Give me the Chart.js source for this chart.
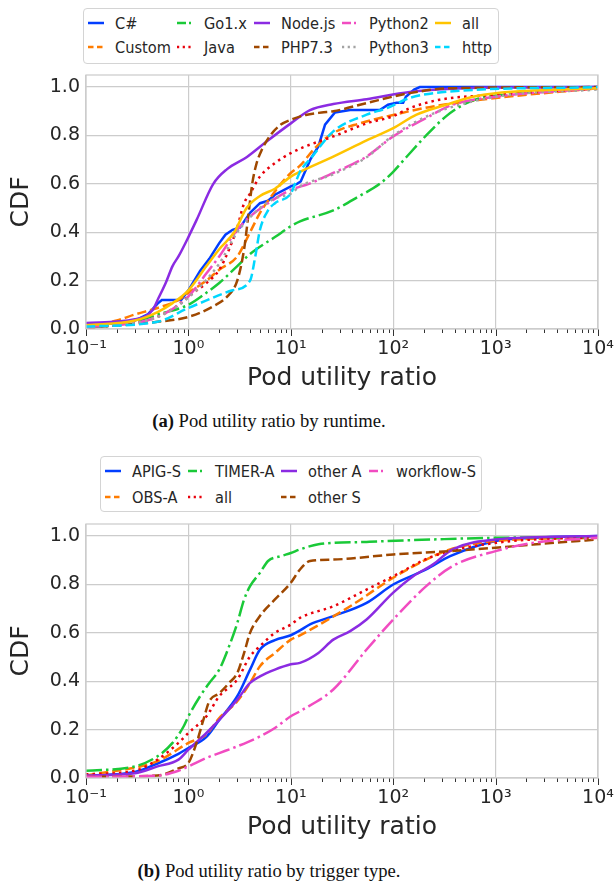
<!DOCTYPE html>
<html lang="en">
<head>
<meta charset="UTF-8" />
<title>Pod utility ratio CDF</title>
<script src="https://cdn.jsdelivr.net/npm/chart.js"></script>
<style>
  body { margin: 0; background: #fff; font-family: "DejaVu Sans", sans-serif; color: #262626; }
  #page { position: relative; width: 615px; height: 886px; overflow: hidden; }
  .legend { position: absolute; border: 1px solid #d4d4d4; border-radius: 4px; background: #fff; box-sizing: border-box; }
  .item { position: absolute; height: 18px; font-size: 14.6px; line-height: 18px; white-space: nowrap; }
  .item svg { position: absolute; left: 0; top: 0; }
  .item span { position: absolute; left: 27px; top: 0; transform: scaleY(1.12); transform-origin: 0 50%; }
  .plot { position: absolute; left: 0; }
  .caption { position: absolute; left: 0; width: 538px; text-align: center; font-family: "Liberation Serif", serif; font-size: 18.6px; color: #111; transform: scaleY(1.05); }
</style>
</head>
<body>
<div id="page">
  <div class="legend" id="legendA" style="left:83px; top:8px; width:416px; height:56px;"></div>
  <canvas class="plot" id="chartA" width="615" height="330" style="top:70px;"></canvas>
  <div class="caption" style="top:410px;"><b>(a)</b> Pod utility ratio by runtime.</div>

  <div class="legend" id="legendB" style="left:100px; top:456px; width:382px; height:56px;"></div>
  <canvas class="plot" id="chartB" width="615" height="330" style="top:519px;"></canvas>
  <div class="caption" style="top:860px;"><b>(b)</b> Pod utility ratio by trigger type.</div>
</div>

<script>
  // axis ticks
  const yTicks = [0, 0.2, 0.4, 0.6, 0.8, 1.0];
  const xDecades = [-1, 0, 1, 2, 3, 4];

  // ---- (a) by runtime ----
  const xCsharp = [0.1, 0.2, 0.3, 0.4, 0.5, 0.55, 0.85, 1.0, 1.3, 1.6, 2.0, 2.3, 2.7, 3.2, 3.5, 4, 5, 6, 7, 10, 11.5, 12.5, 15.5, 18.6, 21.6, 27, 38, 74, 89, 108, 125, 133, 160, 182, 10000];
  const yCsharp = [0.012, 0.025, 0.035, 0.06, 0.105, 0.12, 0.12, 0.16, 0.24, 0.29, 0.355, 0.39, 0.41, 0.42, 0.445, 0.48, 0.52, 0.53, 0.555, 0.59, 0.6, 0.61, 0.70, 0.755, 0.845, 0.895, 0.905, 0.905, 0.927, 0.935, 0.935, 0.96, 0.99, 1.0, 1.0];
  const xCustom = [0.1, 0.2, 0.3, 0.5, 0.8, 1, 1.5, 2, 3, 4, 5, 6, 8, 10, 12.3, 17.4, 26, 47, 100, 245, 1000, 10000];
  const yCustom = [0.01, 0.035, 0.06, 0.087, 0.12, 0.15, 0.2, 0.245, 0.30, 0.40, 0.48, 0.53, 0.60, 0.645, 0.675, 0.75, 0.81, 0.85, 0.885, 0.92, 0.955, 0.995];
  const xGo = [0.1, 0.3, 0.5, 1, 1.5, 2, 3, 4, 5, 7, 10, 12.3, 26, 47, 74, 100, 134, 210, 330, 520, 815, 1000, 2300, 10000];
  const yGo = [0.005, 0.03, 0.06, 0.10, 0.15, 0.19, 0.26, 0.31, 0.34, 0.38, 0.425, 0.445, 0.49, 0.55, 0.60, 0.65, 0.71, 0.80, 0.88, 0.934, 0.96, 0.964, 0.98, 0.995];
  const xJava = [0.1, 0.3, 0.5, 0.8, 1, 1.5, 2, 2.5, 3, 3.5, 4, 5, 7, 10, 13, 26, 55, 100, 145, 285, 1000, 10000];
  const yJava = [0.005, 0.025, 0.05, 0.1, 0.135, 0.19, 0.245, 0.33, 0.42, 0.52, 0.56, 0.63, 0.686, 0.727, 0.75, 0.796, 0.85, 0.88, 0.913, 0.948, 0.968, 0.995];
  const xNode = [0.1, 0.3, 0.45, 0.5, 0.6, 0.7, 0.8, 1, 1.2, 1.75, 2.37, 3.7, 5.8, 10, 15.4, 26, 55, 145, 1000, 10000];
  const yNode = [0.025, 0.04, 0.08, 0.12, 0.19, 0.26, 0.30, 0.38, 0.45, 0.6, 0.66, 0.71, 0.775, 0.85, 0.905, 0.93, 0.95, 0.98, 0.998, 1.0];
  const xPhp = [0.1, 0.5, 1, 1.75, 2.4, 3, 3.5, 3.8, 4.2, 4.6, 5.2, 6.3, 8, 10, 14, 20, 26, 55, 145, 360, 10000];
  const yPhp = [0.005, 0.03, 0.05, 0.094, 0.135, 0.2, 0.33, 0.45, 0.6, 0.68, 0.74, 0.8, 0.845, 0.865, 0.885, 0.895, 0.9, 0.934, 0.975, 0.995, 1.0];
  const xPy2 = [0.1, 0.5, 1, 1.5, 2, 3, 4, 6, 10, 15, 26, 55, 100, 210, 380, 1000, 10000];
  const yPy2 = [0.005, 0.05, 0.135, 0.23, 0.30, 0.41, 0.465, 0.52, 0.575, 0.60, 0.645, 0.713, 0.796, 0.872, 0.927, 0.96, 0.995];
  const xPy3 = [0.1, 0.5, 1, 2, 3, 5, 7, 10, 12.3, 26, 55, 100, 245, 1000, 10000];
  const yPy3 = [0.005, 0.05, 0.13, 0.27, 0.40, 0.50, 0.54, 0.56, 0.59, 0.64, 0.71, 0.80, 0.89, 0.96, 0.99];
  const xAllA = [0.1, 0.3, 0.5, 0.7, 1, 1.5, 2, 2.8, 3.7, 5, 7, 10, 12.3, 26, 55, 100, 169, 330, 600, 1000, 10000];
  const yAllA = [0.015, 0.035, 0.07, 0.107, 0.16, 0.26, 0.33, 0.40, 0.50, 0.55, 0.58, 0.63, 0.65, 0.713, 0.78, 0.83, 0.886, 0.927, 0.96, 0.975, 0.995];
  const xHttp = [0.1, 0.5, 1, 1.3, 2.7, 4, 4.5, 5, 6, 7, 10, 11, 12.3, 16, 26, 55, 87, 145, 360, 10000];
  const yHttp = [0.01, 0.03, 0.087, 0.107, 0.16, 0.2, 0.30, 0.41, 0.49, 0.52, 0.56, 0.60, 0.65, 0.71, 0.817, 0.886, 0.913, 0.955, 0.982, 1.0];

  // ---- (b) by trigger type ----
  const xApig = [0.1, 0.3, 0.5, 0.8, 1, 1.5, 2, 3, 4, 5, 7, 10, 12.3, 15.4, 26, 55, 100, 210, 360, 1000, 2300, 10000];
  const yApig = [0.01, 0.025, 0.06, 0.1, 0.124, 0.17, 0.24, 0.338, 0.448, 0.531, 0.57, 0.59, 0.61, 0.635, 0.669, 0.724, 0.8, 0.862, 0.917, 0.98, 0.993, 1.0];
  const xObs = [0.1, 0.5, 1, 1.5, 2, 3, 4, 5, 7, 10, 12.3, 38, 100, 210, 360, 1000, 10000];
  const yObs = [0.01, 0.07, 0.145, 0.18, 0.248, 0.317, 0.393, 0.462, 0.517, 0.572, 0.59, 0.71, 0.828, 0.903, 0.945, 0.98, 0.993];
  const xTimer = [0.1, 0.3, 0.5, 0.7, 0.9, 1, 1.3, 1.6, 2, 2.5, 3, 3.5, 4, 5, 6, 8, 10, 12.3, 18.6, 55, 245, 1000, 10000];
  const yTimer = [0.03, 0.048, 0.09, 0.145, 0.214, 0.255, 0.338, 0.393, 0.448, 0.545, 0.64, 0.738, 0.793, 0.848, 0.897, 0.917, 0.93, 0.945, 0.966, 0.976, 0.986, 0.993, 0.995];
  const xAllB = [0.1, 0.3, 0.5, 0.8, 1, 1.5, 2, 3, 4, 5, 7, 10, 12.3, 26, 55, 100, 245, 1000, 10000];
  const yAllB = [0.015, 0.03, 0.076, 0.145, 0.186, 0.255, 0.338, 0.407, 0.503, 0.545, 0.6, 0.634, 0.662, 0.71, 0.779, 0.834, 0.917, 0.972, 0.997];
  const xOtherA = [0.1, 0.3, 0.5, 0.8, 1, 1.5, 2, 3, 4, 5, 7, 10, 12.3, 18.6, 26, 38, 55, 100, 157, 245, 380, 1000, 10000];
  const yOtherA = [0.01, 0.02, 0.048, 0.076, 0.117, 0.186, 0.24, 0.324, 0.393, 0.42, 0.448, 0.47, 0.476, 0.517, 0.572, 0.607, 0.655, 0.766, 0.834, 0.883, 0.945, 0.986, 1.0];
  const xOtherS = [0.1, 0.5, 0.8, 1, 1.2, 1.4, 1.6, 2, 2.5, 3, 3.5, 4, 5, 7, 10, 12.3, 15.4, 26, 100, 360, 1000, 2300, 10000];
  const yOtherS = [0.005, 0.01, 0.04, 0.062, 0.145, 0.24, 0.317, 0.35, 0.393, 0.434, 0.517, 0.6, 0.67, 0.738, 0.807, 0.862, 0.897, 0.903, 0.924, 0.938, 0.952, 0.965, 0.986];
  const xWorkflow = [0.1, 0.5, 0.8, 1, 1.5, 2, 3, 5, 7, 10, 12.3, 26, 55, 100, 210, 380, 1000, 2300, 10000];
  const yWorkflow = [0.005, 0.01, 0.03, 0.048, 0.083, 0.103, 0.131, 0.172, 0.207, 0.255, 0.276, 0.366, 0.531, 0.655, 0.793, 0.876, 0.938, 0.972, 0.993];

  const dashes = { solid: [], dashed: [9.25, 4], dotted: [2.5, 4.1], dashdot: [16, 4, 2.5, 4] };
  const legendDashes = { solid: [], dashed: [5.5, 3.5], dotted: [2.2, 3.5], dashdot: [9, 3, 2, 3] };

  const runtimeSeries = [
    { label: 'C#', x: xCsharp, y: yCsharp, color: '#023eff', style: 'solid', tension: 0 },
    { label: 'Custom', x: xCustom, y: yCustom, color: '#ff7c00', style: 'dashed' },
    { label: 'Go1.x', x: xGo, y: yGo, color: '#1ac938', style: 'dashdot' },
    { label: 'Java', x: xJava, y: yJava, color: '#e8000b', style: 'dotted' },
    { label: 'Node.js', x: xNode, y: yNode, color: '#8b2be2', style: 'solid' },
    { label: 'PHP7.3', x: xPhp, y: yPhp, color: '#9f4800', style: 'dashed' },
    { label: 'Python2', x: xPy2, y: yPy2, color: '#f14cc1', style: 'dashdot' },
    { label: 'Python3', x: xPy3, y: yPy3, color: '#a3a3a3', style: 'dotted' },
    { label: 'all', x: xAllA, y: yAllA, color: '#ffc400', style: 'solid' },
    { label: 'http', x: xHttp, y: yHttp, color: '#00d7ff', style: 'dashed' }
  ];

  const triggerSeries = [
    { label: 'APIG-S', x: xApig, y: yApig, color: '#023eff', style: 'solid' },
    { label: 'OBS-A', x: xObs, y: yObs, color: '#ff7c00', style: 'dashed' },
    { label: 'TIMER-A', x: xTimer, y: yTimer, color: '#1ac938', style: 'dashdot' },
    { label: 'all', x: xAllB, y: yAllB, color: '#e8000b', style: 'dotted' },
    { label: 'other A', x: xOtherA, y: yOtherA, color: '#8b2be2', style: 'solid' },
    { label: 'other S', x: xOtherS, y: yOtherS, color: '#9f4800', style: 'dashed' },
    { label: 'workflow-S', x: xWorkflow, y: yWorkflow, color: '#f14cc1', style: 'dashdot' }
  ];

  const supMap = { '-': '\u207B', '0': '\u2070', '1': '\u00B9', '2': '\u00B2', '3': '\u00B3', '4': '\u2074' };
  const isMajor = v => Math.abs(Math.log10(v) - Math.round(Math.log10(v))) < 1e-6;

  function logTickValues() {
    const vals = [];
    for (let i = 0; i < xDecades.length - 1; i++) {
      for (let k = 1; k <= 9; k++) vals.push(k * Math.pow(10, xDecades[i]));
    }
    vals.push(Math.pow(10, xDecades[xDecades.length - 1]));
    return vals;
  }

  // light frame around the plot + outward tick marks on the x axis
  const framePlugin = {
    id: 'frame',
    afterDraw(chart) {
      const { ctx, chartArea: a } = chart;
      const x = chart.scales.x;
      ctx.save();
      ctx.strokeStyle = '#cccccc';
      ctx.lineWidth = 1.25;
      ctx.strokeRect(a.left, a.top, a.right - a.left, a.bottom - a.top);
      ctx.strokeStyle = '#333333';
      ctx.lineWidth = 1;
      x.ticks.forEach(t => {
        const px = Math.round(x.getPixelForValue(t.value)) + 0.5;
        const len = isMajor(t.value) ? 7 : 4;
        ctx.beginPath();
        ctx.moveTo(px, a.bottom + 0.5);
        ctx.lineTo(px, a.bottom + len);
        ctx.stroke();
      });
      ctx.restore();
    }
  };

  function buildLegend(id, series, cols, rows) {
    const box = document.getElementById(id);
    const bx = parseFloat(box.style.left), by = parseFloat(box.style.top);
    series.forEach((s, i) => {
      const col = Math.floor(i / rows.length), row = i % rows.length;
      const item = document.createElement('div');
      item.className = 'item';
      item.style.left = (cols[col] - bx - 1) + 'px';
      item.style.top = (rows[row] - by - 10) + 'px';
      const dash = legendDashes[s.style].join(' ');
      item.innerHTML =
        '<svg width="17" height="18"><line x1="0" y1="9" x2="16" y2="9" stroke="' + s.color +
        '" stroke-width="2.5" stroke-dasharray="' + (dash || 'none') + '"/></svg><span>' + s.label + '</span>';
      box.appendChild(item);
    });
  }

  function makeChart(canvasId, series) {
    const datasets = series.map((s, i) => ({
      label: s.label,
      data: s.x.map((xv, j) => ({ x: xv, y: s.y[j] })),
      borderColor: s.color,
      backgroundColor: s.color,
      borderWidth: 2.5,
      borderDash: dashes[s.style],
      pointRadius: 0,
      fill: false,
      tension: s.tension === 0 ? 0 : 0.4,
      cubicInterpolationMode: s.tension === 0 ? 'default' : 'monotone',
      order: -i
    }));

    return new Chart(document.getElementById(canvasId), {
      type: 'line',
      data: { datasets },
      options: {
        responsive: false,
        animation: false,
        layout: { padding: { top: 5, right: 17, left: 0, bottom: 0 } },
        plugins: { legend: { display: false }, tooltip: { enabled: false } },
        scales: {
          x: {
            type: 'logarithmic',
            min: 0.1,
            max: 10000,
            afterBuildTicks: scale => { scale.ticks = logTickValues().map(v => ({ value: v })); },
            afterFit: scale => { scale.height = 71; scale.paddingLeft = 0; scale.paddingRight = 0; },
            grid: {
              color: c => (c.tick && isMajor(c.tick.value)) ? '#cccccc' : 'rgba(0,0,0,0)',
              lineWidth: 1.2,
              drawTicks: false
            },
            border: { display: false },
            ticks: {
              autoSkip: false,
              maxRotation: 0,
              padding: 9,
              color: '#262626',
              font: { family: 'DejaVu Sans', size: 19 },
              callback: v => {
                if (!isMajor(v)) return '';
                const e = String(Math.round(Math.log10(v)));
                return '10' + e.split('').map(ch => supMap[ch]).join('');
              }
            },
            title: {
              display: true,
              text: 'Pod utility ratio',
              color: '#262626',
              font: { family: 'DejaVu Sans', size: 25 },
              padding: { top: 0, bottom: 7 }
            }
          },
          y: {
            min: 0,
            max: 1.05,
            afterBuildTicks: scale => { scale.ticks = yTicks.map(v => ({ value: v })); },
            afterFit: scale => { scale.width = 86; scale.paddingTop = 0; scale.paddingBottom = 0; },
            grid: { color: '#cccccc', lineWidth: 1.2, drawTicks: false },
            border: { display: false },
            ticks: {
              padding: 6,
              color: '#262626',
              font: { family: 'DejaVu Sans', size: 19 },
              callback: v => v.toFixed(1)
            },
            title: {
              display: true,
              text: 'CDF',
              color: '#262626',
              font: { family: 'DejaVu Sans', size: 25 },
              padding: { top: 6, bottom: 0 }
            }
          }
        }
      },
      plugins: [framePlugin]
    });
  }

  buildLegend('legendA', runtimeSeries, [88, 177, 254, 342, 435], [22.7, 47.3]);
  buildLegend('legendB', triggerSeries, [105, 188, 281, 369], [470.7, 496.7]);
  makeChart('chartA', runtimeSeries);
  makeChart('chartB', triggerSeries);
</script>
</body>
</html>
